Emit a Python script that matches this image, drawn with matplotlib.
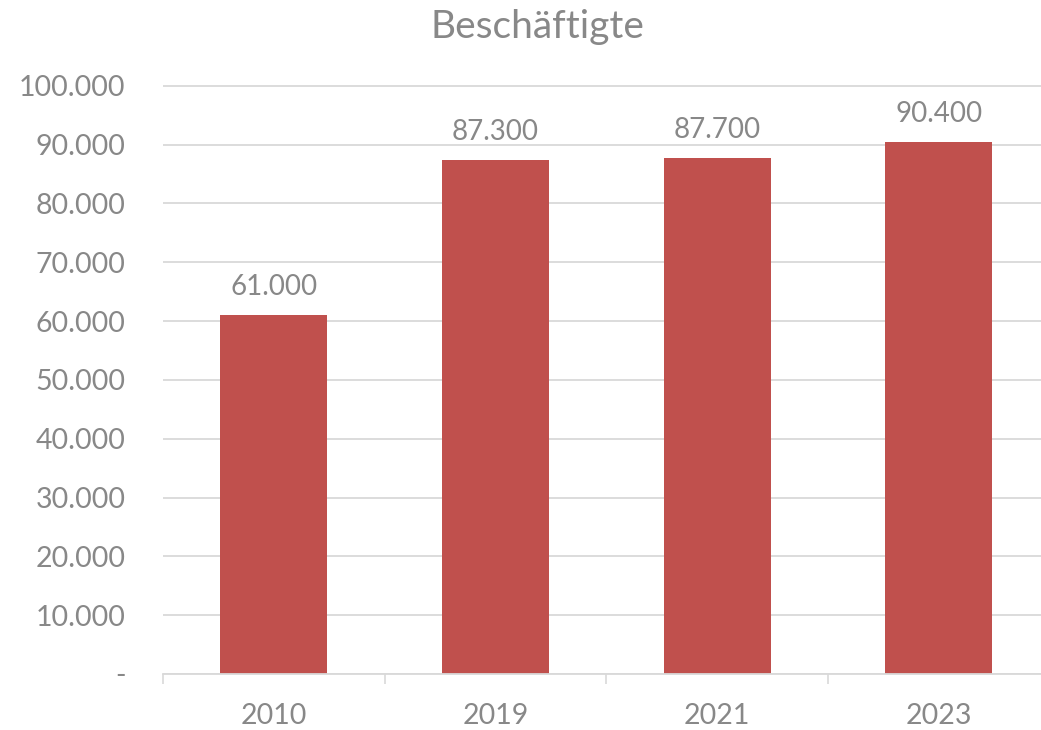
import numpy as np
import matplotlib.pyplot as plt
from matplotlib.ticker import FixedLocator

years = ["2010", "2019", "2021", "2023"]
employees = [61000, 87300, 87700, 90400]
y_ticks = [0, 10000, 20000, 30000, 40000, 50000, 60000, 70000, 80000, 90000, 100000]

def fmt_de(v):
    if v == 0:
        return "-"
    return "{:,}".format(int(v)).replace(",", ".")

plt.rcParams['font.family'] = ['Lato', 'DejaVu Sans']
grey = '#888888'
line_grey = '#d9d9d9'

fig = plt.figure(figsize=(10.41, 7.3), dpi=100)
W, H = 1041.0, 730.0
x0, x1 = 163, 1041
y_zero, y_top = 674, 85.7
ymax = 101000
ax_h = (y_zero - y_top) * ymax / 100000.0
ax = fig.add_axes([x0 / W, (H - y_zero) / H, (x1 - x0) / W, ax_h / H])

ind = np.arange(len(years))
width = 0.483
ax.bar(ind, employees, width, color='#c0504d', zorder=3)

for i, v in enumerate(employees):
    ax.annotate(fmt_de(v), (ind[i], v), xytext=(0, 11), textcoords='offset points',
                ha='center', va='bottom', fontsize=20, color=grey)

ax.set_xlim(-0.5, -0.5 + (x1 - x0) / 221.7)
ax.set_ylim(0, ymax)
ax.set_yticks(y_ticks)
ax.set_yticklabels([fmt_de(v) for v in y_ticks])
ax.set_xticks(ind)
ax.set_xticklabels(years)
ax.xaxis.set_minor_locator(FixedLocator(np.arange(-0.5, len(years), 1.0)))

ax.tick_params(axis='y', length=0, pad=27, labelsize=20.5, labelcolor=grey)
ax.tick_params(axis='x', which='major', length=0, pad=21, labelsize=20.5, labelcolor=grey)
ax.tick_params(axis='x', which='minor', length=7.5, width=1.2, color=line_grey)

ax.grid(axis='y', color=line_grey, linewidth=1.3, zorder=0)
for s in ['top', 'right', 'left']:
    ax.spines[s].set_visible(False)
ax.spines['bottom'].set_color(line_grey)
ax.spines['bottom'].set_linewidth(1.3)
ax.spines['bottom'].set_zorder(4)

fig.text(537 / W, 1 - 27 / H, "Beschäftigte", ha='center', va='center',
         fontsize=28, color=grey)

plt.savefig("out.png", dpi=100)
